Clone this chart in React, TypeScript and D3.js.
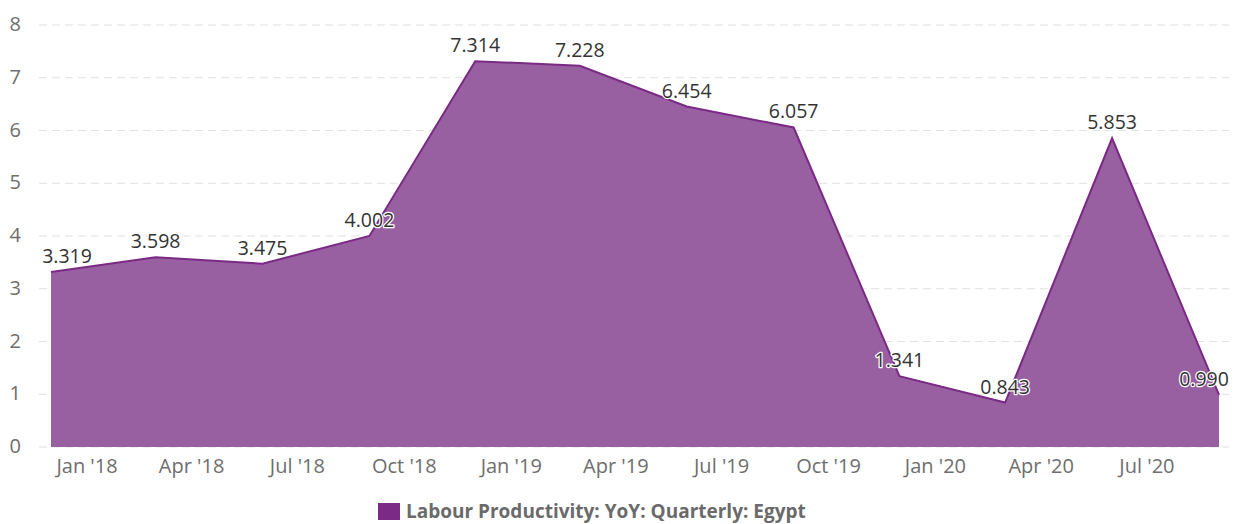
import React from "react";
import * as d3 from "d3";

const dates: string[] = [
  "2017-12-01", "2018-03-01", "2018-06-01", "2018-09-01",
  "2018-12-01", "2019-03-01", "2019-06-01", "2019-09-01",
  "2019-12-01", "2020-03-01", "2020-06-01", "2020-09-01",
];
const values: number[] = [3.319, 3.598, 3.475, 4.002, 7.314, 7.228, 6.454, 6.057, 1.341, 0.843, 5.853, 0.99];
const xTickDates: string[] = [
  "2018-01-01", "2018-04-01", "2018-07-01", "2018-10-01",
  "2019-01-01", "2019-04-01", "2019-07-01", "2019-10-01",
  "2020-01-01", "2020-04-01", "2020-07-01",
];
const yTicks: number[] = [0, 1, 2, 3, 4, 5, 6, 7, 8];
const seriesName = "Labour Productivity: YoY: Quarterly: Egypt";

const W = 1233;
const H = 524;
const plotLeft = 39;
const plotRight = 1229;
const FONT = "'Open Sans', sans-serif";

export default function App() {
  const parse = d3.utcParse("%Y-%m-%d");
  const data = dates.map((d, i) => ({ date: parse(d) as Date, value: values[i] }));
  const x = d3
    .scaleUtc()
    .domain([data[0].date, data[data.length - 1].date])
    .range([51, 1219]);
  const y = d3.scaleLinear().domain([0, 8]).range([447, 25]);

  const area = d3
    .area<{ date: Date; value: number }>()
    .x((d) => x(d.date))
    .y0(y(0))
    .y1((d) => y(d.value));
  const line = d3
    .line<{ date: Date; value: number }>()
    .x((d) => x(d.date))
    .y((d) => y(d.value));

  const fmtTick = (d: Date) => d3.utcFormat("%b '%y")(d);
  const labelW = 52;

  return (
    <svg width={W} height={H} style={{ position: "absolute", left: 0, top: 0, background: "#fff" }}>
      {yTicks.map((t) => (
        <g key={t}>
          <line
            x1={plotLeft}
            x2={plotRight}
            y1={y(t)}
            y2={y(t)}
            stroke="#e1e1e1"
            strokeWidth={1}
            strokeDasharray="8,5"
          />
          <text
            x={21}
            y={y(t)}
            dy="0.3em"
            textAnchor="end"
            fontFamily={FONT}
            fontSize={20}
            fill="#6e6e6e"
          >
            {t}
          </text>
        </g>
      ))}
      <path d={area(data) || ""} fill="#9860a0" />
      <path d={line(data) || ""} fill="none" stroke="#7a2a84" strokeWidth={2} />
      {xTickDates.map((s) => {
        const d = parse(s) as Date;
        return (
          <text
            key={s}
            x={x(d)}
            y={473}
            textAnchor="middle"
            fontFamily={FONT}
            fontSize={20}
            fill="#6e6e6e"
          >
            {fmtTick(d)}
          </text>
        );
      })}
      {data.map((d, i) => {
        let cx = x(d.date);
        cx = Math.max(plotLeft + 2 + labelW / 2, Math.min(plotRight + 1 - labelW / 2, cx));
        return (
          <text
            key={i}
            x={cx}
            y={y(d.value) - 9}
            textAnchor="middle"
            fontFamily={FONT}
            fontSize={19.5}
            fill="#333"
            stroke="#fff"
            strokeWidth={2.5}
            strokeLinejoin="round"
            style={{ paintOrder: "stroke" }}
          >
            {d3.format(".3f")(d.value)}
          </text>
        );
      })}
      <rect x={378} y={503} width={22} height={17} fill="#7b2a85" />
      <text
        x={406}
        y={518}
        fontFamily={FONT}
        fontSize={19}
        fontWeight="bold"
        fill="#6a6a6a"
      >
        {seriesName}
      </text>
    </svg>
  );
}
